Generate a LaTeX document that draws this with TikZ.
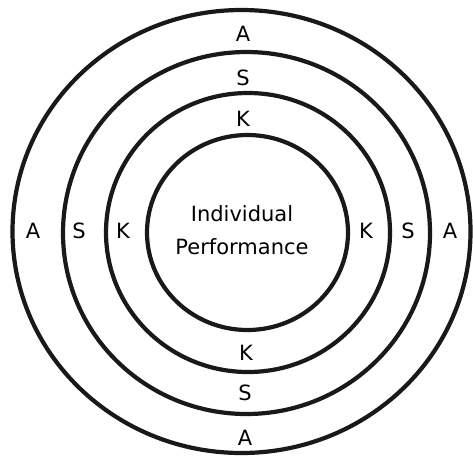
\documentclass[tikz,border=0pt]{standalone}
\usepackage{fontspec}
\setmainfont{DejaVu Sans}
\usetikzlibrary{positioning}

\tikzset{
  ring/.style={line width=4.2pt, black!90},
  lbl/.style={font=\fontsize{21}{33}\selectfont, inner sep=1pt}
}

\begin{document}
\begin{tikzpicture}[x=1pt,y=-1pt]
\useasboundingbox (0,0) rectangle (473,456);

% Rings
\draw[ring] (241.5,231.5) ellipse [x radius=229, y radius=221.5];
\draw[ring] (246.5,233) ellipse [x radius=183.5, y radius=181];
\draw[ring] (248,232.5) ellipse [x radius=142, y radius=139.5];
\draw[ring] (247.5,232.5) ellipse [x radius=100.5, y radius=97.5];

% Centre
\node[lbl, align=center] (perf) at (242,230) {Individual\\Performance};

% Attitude
\node[lbl] (aTop) at (243,34) {A};
\node[lbl] (aBot) at (245,437.5) {A};
\node[lbl] (aLeft) at (33,230.5) {A};
\node[lbl] (aRight) at (450,230.5) {A};

% Skills
\node[lbl] (sTop) at (243,77.5) {S};
\node[lbl] (sBot) at (245,393) {S};
\node[lbl] (sLeft) at (79,230.5) {S};
\node[lbl] (sRight) at (408,230.5) {S};

% Knowledge
\node[lbl] (kTop) at (243,118.5) {K};
\node[lbl] (kBot) at (246,352.5) {K};
\node[lbl] (kLeft) at (123,230.5) {K};
\node[lbl] (kRight) at (366,230.5) {K};
\end{tikzpicture}
\end{document}
